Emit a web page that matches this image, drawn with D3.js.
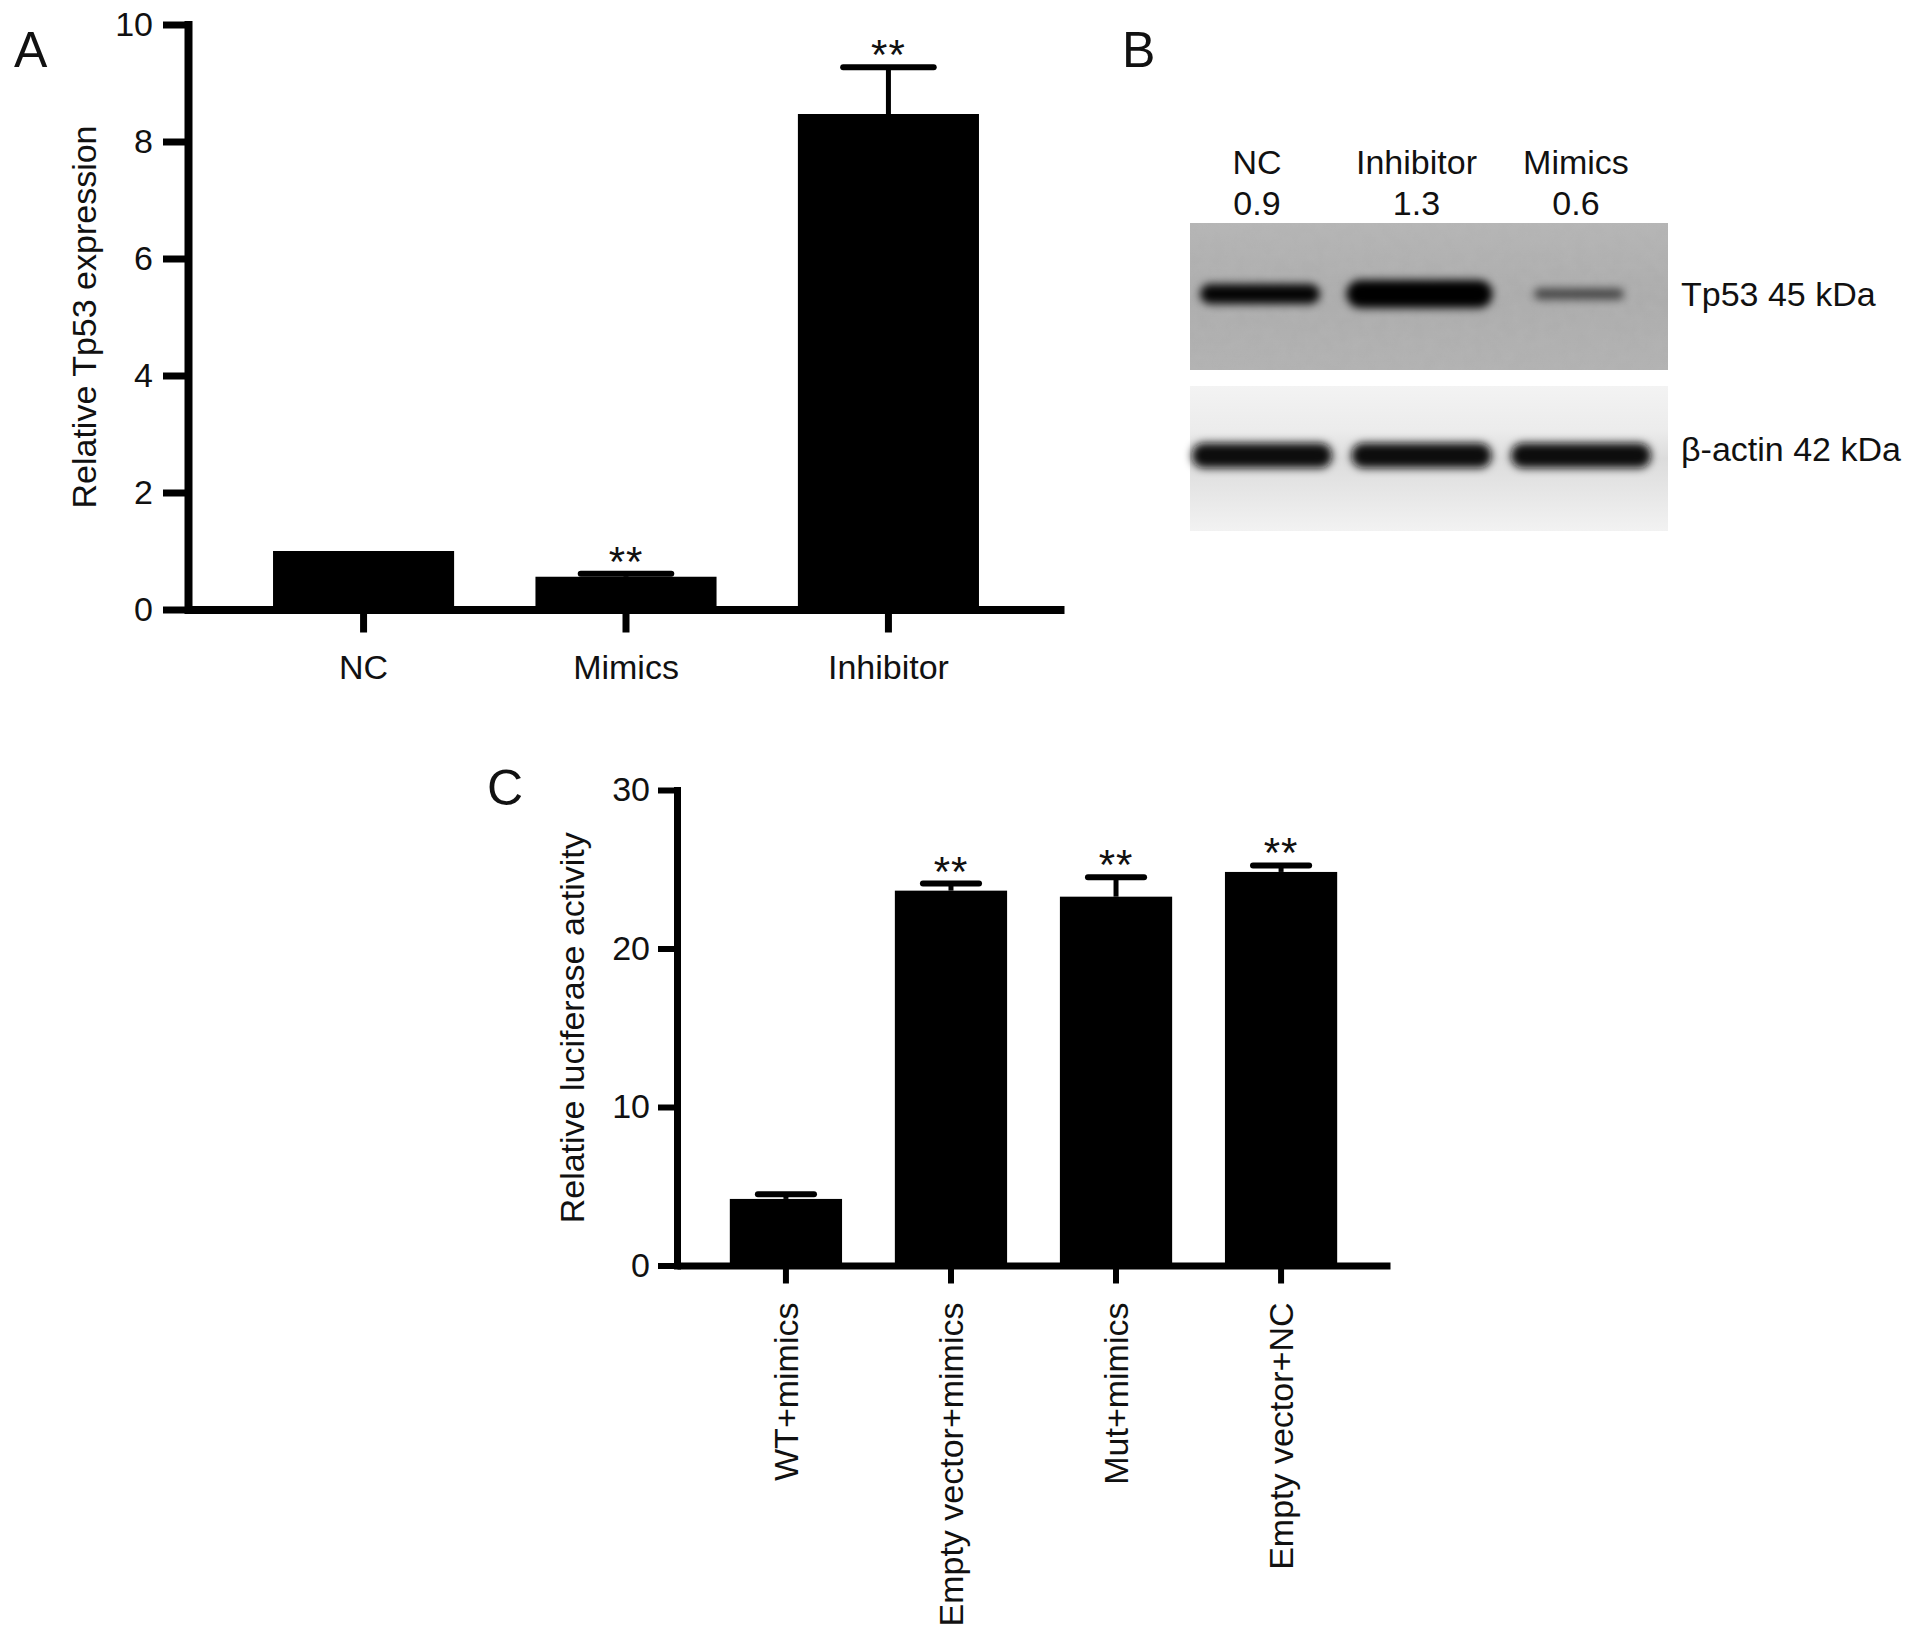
<!DOCTYPE html>
<html>
<head>
<meta charset="utf-8">
<script src="https://d3js.org/d3.v7.min.js"></script>
<style>
  body { margin: 0; background: #fff; }
  text { font-family: "Liberation Sans", Arial, sans-serif; fill: #111; }
</style>
</head>
<body>
<svg id="fig" width="1913" height="1636"></svg>
<script>
// ---- panel A : qPCR ----
var groupsA = ["NC", "Mimics", "Inhibitor"];
var meanA = [1.0, 0.56, 8.47];
var errA = [0, 0.05, 0.8];
var sigA = ["", "**", "**"];
var ticksA = [0, 2, 4, 6, 8, 10];

// ---- panel B : western blot ----
var lanesB = ["NC", "Inhibitor", "Mimics"];
var ratioB = [0.9, 1.3, 0.6];
var actinB = [1, 1, 1];

// ---- panel C : luciferase ----
var groupsC = ["WT+mimics", "Empty vector+mimics", "Mut+mimics", "Empty vector+NC"];
var meanC = [4.2, 23.65, 23.27, 24.83];
var errC = [0.3, 0.45, 1.23, 0.41];
var sigC = ["", "**", "**", "**"];
var ticksC = [0, 10, 20, 30];

var svg = d3.select("#fig");
var FS = 34;

function barPanel(cfg) {
  var g = svg.append("g");
  var x = d3.scaleBand().domain(cfg.groups).range(cfg.xr)
      .paddingInner(cfg.pin).paddingOuter(cfg.pout);
  var y = d3.scaleLinear().domain(cfg.ydom).range(cfg.yr);

  var rows = cfg.groups.map(function(d, i) {
    return {g: d, m: cfg.mean[i], e: cfg.err[i], s: cfg.sig[i]};
  });

  // bars
  g.selectAll("rect.bar").data(rows).enter().append("rect")
      .attr("class", "bar")
      .attr("x", function(d) { return x(d.g); })
      .attr("width", x.bandwidth())
      .attr("y", function(d) { return y(d.m); })
      .attr("height", function(d) { return y(0) - y(d.m); })
      .attr("fill", "#000");

  // error bars (upper only)
  var eb = rows.filter(function(d) { return d.e > 0; });
  var capW = x.bandwidth() * 0.5;
  g.selectAll("line.ev").data(eb).enter().append("line")
      .attr("x1", function(d) { return x(d.g) + x.bandwidth() / 2; })
      .attr("x2", function(d) { return x(d.g) + x.bandwidth() / 2; })
      .attr("y1", function(d) { return y(d.m); })
      .attr("y2", function(d) { return y(d.m + d.e); })
      .attr("stroke", "#000").attr("stroke-width", 5);
  g.selectAll("line.cap").data(eb).enter().append("line")
      .attr("x1", function(d) { return x(d.g) + x.bandwidth() / 2 - capW / 2; })
      .attr("x2", function(d) { return x(d.g) + x.bandwidth() / 2 + capW / 2; })
      .attr("y1", function(d) { return y(d.m + d.e); })
      .attr("y2", function(d) { return y(d.m + d.e); })
      .attr("stroke", "#000").attr("stroke-width", 6).attr("stroke-linecap", "round");

  // significance stars
  g.selectAll("text.sig").data(rows.filter(function(d) { return d.s; })).enter().append("text")
      .attr("x", function(d) { return x(d.g) + x.bandwidth() / 2; })
      .attr("y", function(d) { return y(d.m + d.e) + cfg.starDy; })
      .attr("text-anchor", "middle")
      .attr("font-size", 42)
      .attr("letter-spacing", 1)
      .text(function(d) { return d.s; });

  // y axis
  var ya = g.append("g").attr("transform", "translate(" + cfg.xr[0] + ",0)")
      .call(d3.axisLeft(y).tickValues(cfg.ticks).tickSize(cfg.tickY).tickSizeOuter(0).tickPadding(cfg.padY));
  ya.select(".domain").attr("stroke-width", cfg.sw).attr("stroke-linecap", "square");
  ya.selectAll(".tick line").attr("stroke-width", cfg.sw - 1);
  ya.selectAll(".tick text").attr("font-size", FS).attr("font-family", null).attr("fill", "#111");

  // x axis
  var xa = g.append("g").attr("transform", "translate(0," + y(0) + ")")
      .call(d3.axisBottom(x).tickSize(cfg.tickX).tickSizeOuter(0).tickPadding(cfg.padX));
  xa.select(".domain").attr("stroke-width", cfg.sw);
  xa.selectAll(".tick line").attr("stroke-width", cfg.sw - 1);
  var xt = xa.selectAll(".tick text").attr("font-size", FS).attr("font-family", null).attr("fill", "#111");
  if (cfg.rotate) {
    xt.attr("transform", "rotate(-90)")
      .attr("text-anchor", "end")
      .attr("x", -cfg.padX - cfg.tickX)
      .attr("y", 0)
      .attr("dy", "0.35em");
  }

  // axis title
  var mid = (cfg.yr[0] + cfg.yr[1]) / 2;
  g.append("text")
      .attr("transform", "translate(" + cfg.titleX + "," + mid + ") rotate(-90)")
      .attr("text-anchor", "middle")
      .attr("dy", "0.35em")
      .attr("font-size", FS)
      .text(cfg.title);

  g.append("text").attr("x", cfg.letter[0]).attr("y", cfg.letter[1])
      .attr("font-size", 50).text(cfg.letter[2]);
}

barPanel({
  groups: groupsA, mean: meanA, err: errA, sig: sigA, ticks: ticksA,
  xr: [188, 1064], pin: 0.31, pout: 0.324,
  ydom: [0, 10], yr: [609.5, 24.5],
  sw: 8, tickY: 25, padY: 10, tickX: 23, padX: 22,
  starDy: 2, rotate: false,
  title: "Relative Tp53 expression", titleX: 84,
  letter: [14, 67, "A"]
});

barPanel({
  groups: groupsC, mean: meanC, err: errC, sig: sigC, ticks: ticksC,
  xr: [677, 1390], pin: 0.32, pout: 0.32,
  ydom: [0, 30], yr: [1265.5, 790],
  sw: 7, tickY: 19, padY: 8, tickX: 18, padX: 19,
  starDy: 2, rotate: true,
  title: "Relative luciferase activity", titleX: 572,
  letter: [487, 805, "C"]
});

// ---- panel B drawing ----
var defs = svg.append("defs");
defs.append("filter").attr("id", "blur").attr("x", "-30%").attr("y", "-100%")
    .attr("width", "160%").attr("height", "300%")
  .append("feGaussianBlur").attr("stdDeviation", 4);

var grain = defs.append("filter").attr("id", "grain");
grain.append("feTurbulence").attr("type", "fractalNoise").attr("baseFrequency", 0.08)
    .attr("numOctaves", 2).attr("seed", 3);
grain.append("feColorMatrix").attr("type", "matrix")
    .attr("values", "0 0 0 0 0.5  0 0 0 0 0.5  0 0 0 0 0.5  0 0 0 0.35 -0.1");
grain.append("feComposite").attr("in2", "SourceGraphic").attr("operator", "in");

var gTop = defs.append("linearGradient").attr("id", "gTop").attr("x1", 0).attr("x2", 0).attr("y1", 0).attr("y2", 1);
gTop.append("stop").attr("offset", "0%").attr("stop-color", "#b5b5b5");
gTop.append("stop").attr("offset", "50%").attr("stop-color", "#acacac");
gTop.append("stop").attr("offset", "100%").attr("stop-color", "#b2b2b2");

var gBot = defs.append("linearGradient").attr("id", "gBot").attr("x1", 0).attr("x2", 0).attr("y1", 0).attr("y2", 1);
gBot.append("stop").attr("offset", "0%").attr("stop-color", "#f3f3f3");
gBot.append("stop").attr("offset", "30%").attr("stop-color", "#ececec");
gBot.append("stop").attr("offset", "50%").attr("stop-color", "#dcdcdc");
gBot.append("stop").attr("offset", "75%").attr("stop-color", "#e7e7e7");
gBot.append("stop").attr("offset", "100%").attr("stop-color", "#f2f2f2");

var lane = d3.scalePoint().domain(lanesB).range([1260, 1579]);
var bandW = d3.scaleLinear().domain([0.6, 0.9, 1.3]).range([90, 120, 146]);
var bandH = d3.scaleLinear().domain([0.6, 0.9, 1.3]).range([11, 20, 28]);
var bandO = d3.scaleLinear().domain([0.6, 0.9, 1.3]).range([0.6, 0.97, 1]);

var blot = {x: 1190, w: 478, top: [223, 370], bot: [386, 531]};
var gB = svg.append("g");

gB.append("rect").attr("x", blot.x).attr("y", blot.top[0]).attr("width", blot.w)
    .attr("height", blot.top[1] - blot.top[0]).attr("fill", "url(#gTop)");
gB.append("rect").attr("x", blot.x).attr("y", blot.top[0]).attr("width", blot.w)
    .attr("height", blot.top[1] - blot.top[0]).attr("fill", "#aaa").attr("filter", "url(#grain)");
gB.append("rect").attr("x", blot.x).attr("y", blot.bot[0]).attr("width", blot.w)
    .attr("height", blot.bot[1] - blot.bot[0]).attr("fill", "url(#gBot)");

gB.selectAll("rect.tp53").data(lanesB).enter().append("rect")
    .attr("x", function(d, i) { return lane(d) - bandW(ratioB[i]) / 2; })
    .attr("y", function(d, i) { return 294 - bandH(ratioB[i]) / 2; })
    .attr("width", function(d, i) { return bandW(ratioB[i]); })
    .attr("height", function(d, i) { return bandH(ratioB[i]); })
    .attr("rx", function(d, i) { return bandH(ratioB[i]) / 2; })
    .attr("fill", "#060606")
    .attr("opacity", function(d, i) { return bandO(ratioB[i]); })
    .attr("filter", "url(#blur)");

gB.selectAll("rect.actin").data(lanesB).enter().append("rect")
    .attr("x", function(d, i) { return lane(d) + 2 - 70 * actinB[i]; })
    .attr("y", 443)
    .attr("width", function(d, i) { return 140 * actinB[i]; })
    .attr("height", 25)
    .attr("rx", 12)
    .attr("fill", "#111")
    .attr("filter", "url(#blur)");

gB.selectAll("text.lane").data(lanesB).enter().append("text")
    .attr("x", function(d) { return lane(d) - 3; })
    .attr("y", 174)
    .attr("text-anchor", "middle")
    .attr("font-size", FS)
    .text(function(d) { return d; });

gB.selectAll("text.ratio").data(ratioB).enter().append("text")
    .attr("x", function(d, i) { return lane(lanesB[i]) - 3; })
    .attr("y", 215)
    .attr("text-anchor", "middle")
    .attr("font-size", FS)
    .text(function(d) { return d3.format(".1f")(d); });

gB.append("text").attr("x", 1681).attr("y", 306).attr("font-size", FS).text("Tp53 45 kDa");
gB.append("text").attr("x", 1681).attr("y", 461).attr("font-size", FS).text("\u03b2-actin 42 kDa");
gB.append("text").attr("x", 1122).attr("y", 67).attr("font-size", 50).text("B");
</script>
</body>
</html>
